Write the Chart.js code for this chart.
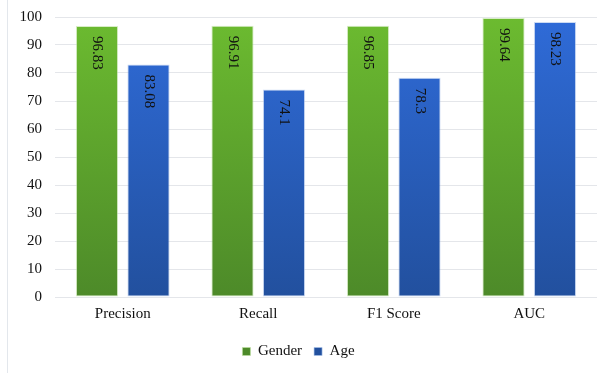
<!DOCTYPE html>
<html>
<head>
<meta charset="utf-8">
<script src="https://cdn.jsdelivr.net/npm/chart.js@4.4.1/dist/chart.umd.min.js"></script>
<style>
  html, body { margin: 0; padding: 0; background: #fff; }
  #wrap { position: relative; width: 609px; height: 373px; }
  #frame { position: absolute; left: 7px; top: 0; width: 0; height: 373px; border-left: 1px solid #e3e7ec; }
  canvas { position: absolute; left: 0; top: 0; }
</style>
</head>
<body>
<div id="wrap">
  <div id="frame"></div>
  <canvas id="metricsChart" width="609" height="373"></canvas>
</div>
<script>
// values
const metrics = ['Precision', 'Recall', 'F1 Score', 'AUC'];
const genderScores = [96.83, 96.91, 96.85, 99.64];
const ageScores = [83.08, 74.1, 78.3, 98.23];
const yTicks = [0, 10, 20, 30, 40, 50, 60, 70, 80, 90, 100];

const serif = '"Liberation Serif", "Times New Roman", serif';

function barGradient(top, bottom) {
    return function (context) {
        const area = context.chart.chartArea;
        if (!area) return bottom;
        const g = context.chart.ctx.createLinearGradient(0, area.top, 0, area.bottom);
        g.addColorStop(0, top);
        g.addColorStop(1, bottom);
        return g;
    };
}

// writes the value inside each bar, turned to read top to bottom
const valueLabels = {
    id: 'valueLabels',
    afterDatasetsDraw(chart) {
        const ctx = chart.ctx;
        ctx.save();
        ctx.font = '15px ' + serif;
        ctx.fillStyle = '#111';
        ctx.textAlign = 'left';
        ctx.textBaseline = 'middle';
        chart.data.datasets.forEach((ds, i) => {
            chart.getDatasetMeta(i).data.forEach((bar, j) => {
                ctx.save();
                ctx.translate(bar.x, bar.y + 10);
                ctx.rotate(Math.PI / 2);
                ctx.fillText(String(ds.data[j]), 0, 0);
                ctx.restore();
            });
        });
        ctx.restore();
    }
};

const ctx = document.getElementById('metricsChart').getContext('2d');
new Chart(ctx, {
    type: 'bar',
    data: {
        labels: metrics,
        datasets: [
            {
                label: 'Gender',
                data: genderScores,
                backgroundColor: barGradient('#6cbb30', '#4d8a29'),
                borderColor: 'rgba(190, 225, 160, 0.6)',
                borderWidth: 1,
                borderSkipped: false,
                categoryPercentage: 0.76,
                barPercentage: 0.82
            },
            {
                label: 'Age',
                data: ageScores,
                backgroundColor: barGradient('#2f6bd8', '#22509e'),
                borderColor: 'rgba(170, 195, 235, 0.6)',
                borderWidth: 1,
                borderSkipped: false,
                categoryPercentage: 0.76,
                barPercentage: 0.82
            }
        ]
    },
    options: {
        responsive: false,
        animation: false,
        layout: { padding: { top: 17, right: 12, bottom: 4, left: 0 } },
        scales: {
            x: {
                grid: { display: false },
                border: { display: false },
                ticks: { color: '#111', font: { family: serif, size: 15 }, padding: 0 },
                afterFit(axis) { axis.height += 9; }
            },
            y: {
                min: 0,
                max: 100,
                afterBuildTicks(axis) {
                    axis.ticks = yTicks.map(v => ({ value: v }));
                },
                afterFit(axis) {
                    axis.width = 55;
                    axis.paddingTop = 0;
                    axis.paddingBottom = 0;
                },
                grid: { color: '#e4e6ea', lineWidth: 1, drawTicks: false },
                border: { display: false },
                ticks: { color: '#111', font: { family: serif, size: 15 }, padding: 13 }
            }
        },
        plugins: {
            legend: {
                position: 'bottom',
                labels: {
                    color: '#111',
                    font: { family: serif, size: 15 },
                    boxWidth: 8,
                    boxHeight: 8,
                    padding: 12
                }
            },
            tooltip: { enabled: false }
        }
    },
    plugins: [valueLabels]
});
</script>
</body>
</html>
